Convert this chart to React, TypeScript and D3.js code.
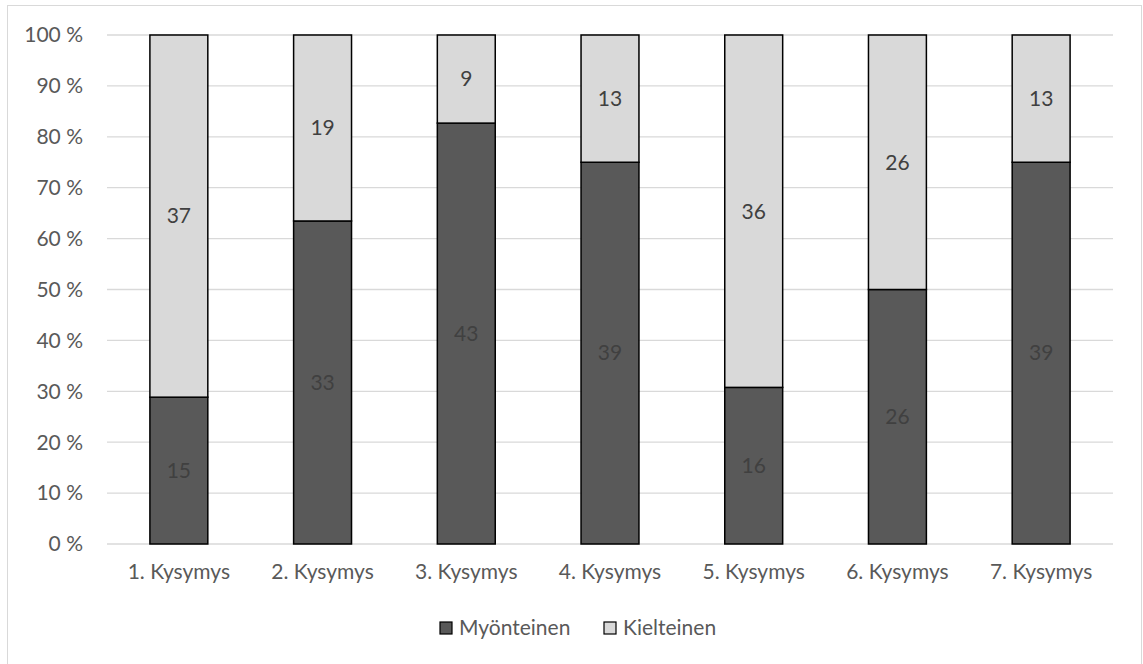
import React from "react";
import * as d3 from "d3";

const categories = ["1. Kysymys", "2. Kysymys", "3. Kysymys", "4. Kysymys", "5. Kysymys", "6. Kysymys", "7. Kysymys"];
const myonteinen = [15, 33, 43, 39, 16, 26, 39];
const kielteinen = [37, 19, 9, 13, 36, 26, 13];
const seriesNames = ["Myönteinen", "Kielteinen"];
const seriesColors = ["#595959", "#d9d9d9"];
const yTicks = [0, 0.1, 0.2, 0.3, 0.4, 0.5, 0.6, 0.7, 0.8, 0.9, 1];

const W = 1143;
const H = 664;
const FONT = "Lato, 'Open Sans', sans-serif";
const FS = 21;

export default function App() {
  const left = 107, right = 1113, top = 35, bottom = 544;
  const x = d3.scaleBand<string>().domain(categories).range([left, right]).paddingInner(0.597).paddingOuter(0.2985);
  const y = d3.scaleLinear().domain([0, 1]).range([bottom, top]);
  const rows = categories.map((c, i) => ({ c, m: myonteinen[i], k: kielteinen[i] }));
  const stack = d3.stack<any>().keys(["m", "k"]).offset(d3.stackOffsetExpand)(rows);
  const fmt = (v: number) => `${Math.round(v * 100)} %`;

  return (
    <svg width={W} height={H} style={{ position: "absolute", left: 0, top: 0, background: "#fff" }} fontFamily={FONT}>
      <rect x={7.5} y={5.5} width={1134} height={680} fill="#fff" stroke="#d9d9d9" strokeWidth={1} />
      {yTicks.map((t) => (
        <g key={t}>
          <line x1={left} x2={right} y1={y(t)} y2={y(t)} stroke="#d9d9d9" strokeWidth={1.3} />
          <text x={83} y={y(t)} dy="0.35em" textAnchor="end" fontSize={FS} fill="#595959">{fmt(t)}</text>
        </g>
      ))}
      {stack.map((s, si) =>
        s.map((d, i) => {
          const bx = x(categories[i])!;
          const bw = x.bandwidth();
          const y0 = y(d[0]);
          const y1 = y(d[1]);
          const val = si === 0 ? myonteinen[i] : kielteinen[i];
          return (
            <g key={`${si}-${i}`}>
              <rect x={bx} y={y1} width={bw} height={y0 - y1} fill={seriesColors[si]} stroke="#000" strokeWidth={1.5} />
              <text x={bx + bw / 2} y={(y0 + y1) / 2} dy="0.35em" textAnchor="middle" fontSize={FS} fill="#404040">{val}</text>
            </g>
          );
        })
      )}
      {categories.map((c) => (
        <text key={c} x={x(c)! + x.bandwidth() / 2} y={572} dy="0.35em" textAnchor="middle" fontSize={FS} fill="#595959">{c}</text>
      ))}
      {seriesNames.map((n, i) => {
        const lx = i === 0 ? 440 : 604;
        return (
          <g key={n}>
            <rect x={lx} y={622} width={12} height={12} fill={seriesColors[i]} stroke="#000" strokeWidth={1.2} />
            <text x={lx + 19} y={628} dy="0.35em" fontSize={FS} fill="#595959">{n}</text>
          </g>
        );
      })}
    </svg>
  );
}
